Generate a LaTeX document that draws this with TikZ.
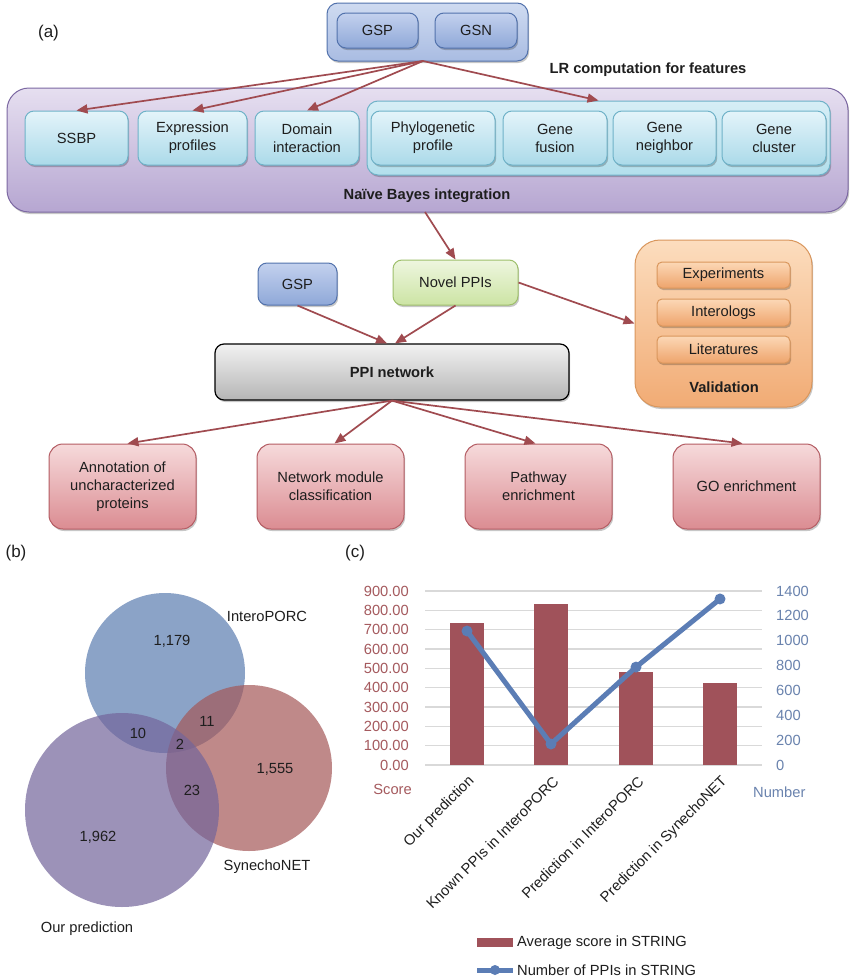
\documentclass[tikz,border=0pt]{standalone}
\usepackage{fontspec}
\setmainfont{Liberation Sans}
\usetikzlibrary{arrows.meta,shadows,calc,shadings}
\definecolor{arrowc}{HTML}{A04B50}
\definecolor{blueT}{HTML}{C3D1EE}\definecolor{blueB}{HTML}{8FA8D8}\definecolor{blueD}{HTML}{5272AC}
\definecolor{gblueT}{HTML}{CFDBF1}\definecolor{gblueB}{HTML}{A9BCE2}
\definecolor{purT}{HTML}{E6DFF0}\definecolor{purB}{HTML}{B6A6D1}\definecolor{purD}{HTML}{7C68A2}
\definecolor{cyT}{HTML}{E4F4FA}\definecolor{cyB}{HTML}{ABDAE9}\definecolor{cyD}{HTML}{6FB2C8}
\definecolor{cgT}{HTML}{D6EEF6}\definecolor{cgB}{HTML}{B3DFEC}
\definecolor{grT}{HTML}{EEF6DF}\definecolor{grB}{HTML}{CCE4A4}\definecolor{grD}{HTML}{9EBF6B}
\definecolor{gyT}{HTML}{F2F2F2}\definecolor{gyB}{HTML}{B5B5B5}
\definecolor{orT}{HTML}{FCDDBE}\definecolor{orB}{HTML}{F1AB74}\definecolor{orD}{HTML}{D9965C}
\definecolor{oiT}{HTML}{FCD8B6}\definecolor{oiB}{HTML}{EEA46C}
\definecolor{pkT}{HTML}{F6DADB}\definecolor{pkB}{HTML}{DB8C92}\definecolor{pkD}{HTML}{B45C63}
\definecolor{vblue}{HTML}{5B7CB0}\definecolor{vred}{HTML}{A45858}\definecolor{vpur}{HTML}{73659B}
\definecolor{barc}{HTML}{A0525A}\definecolor{linec}{HTML}{5B7DB5}
\definecolor{lax}{HTML}{A55A5E}\definecolor{rax}{HTML}{6A83AE}
\definecolor{gridc}{HTML}{D9D9D9}\definecolor{txt}{HTML}{1E1E1E}
\newcommand\myfs{\fontsize{14.7}{18}\selectfont}
\tikzset{
  shad/.style={drop shadow={shadow xshift=1.2pt,shadow yshift=-2pt,opacity=0.22,fill=black}},
  box/.style={rounded corners=9pt,line width=1pt,align=center,inner sep=0pt,text=txt,font=\myfs,shad},
  bluebox/.style={box,draw=blueD,top color=blueT,bottom color=blueB},
  groupblue/.style={box,rounded corners=11pt,draw=blueD,top color=gblueT,bottom color=gblueB},
  purbox/.style={box,rounded corners=22pt,draw=purD,top color=purT,bottom color=purB},
  cybox/.style={box,draw=cyD,top color=cyT,bottom color=cyB},
  cygroup/.style={box,rounded corners=11pt,draw=cyD,top color=cgT,bottom color=cgB},
  grbox/.style={box,draw=grD,top color=grT,bottom color=grB},
  gybox/.style={box,draw=black,line width=1.2pt,top color=gyT,bottom color=gyB},
  orbox/.style={box,rounded corners=25pt,draw=orD,top color=orT,bottom color=orB},
  oibox/.style={box,rounded corners=5pt,draw=orD,top color=oiT,bottom color=oiB},
  pkbox/.style={box,rounded corners=14pt,draw=pkD,top color=pkT,bottom color=pkB},
  lbl/.style={font=\myfs,text=txt,inner sep=0pt},
  blbl/.style={font=\myfs\bfseries,text=txt,inner sep=0pt},
  arr/.style={draw=arrowc,line width=1.7pt,-{Triangle[length=11pt,width=9pt]}},
}
\begin{document}
\begin{tikzpicture}[x=1pt,y=-1pt]
\useasboundingbox (0,0) rectangle (854,980);
\fill[white] (0,0) rectangle (854,980);
% ---------- (a) ----------
\node[lbl,font=\fontsize{17}{20}\selectfont] (la) at (48.5,33) {(a)};
\node[groupblue,minimum width=201,minimum height=58] (topgrp) at (427.5,32) {};
\node[bluebox,minimum width=81,minimum height=35] (gsp1) at (377.5,30.5) {GSP};
\node[bluebox,minimum width=82,minimum height=35] (gsn) at (476,30.5) {GSN};
\node[blbl] (lr) at (648,70) {LR computation for features};
\node[purbox,minimum width=841,minimum height=124] (nb) at (427.5,150) {};
\node[blbl] (nbl) at (427,196) {Naïve Bayes integration};
\node[cybox,minimum width=103,minimum height=54] (ssbp) at (76.5,138) {SSBP};
\node[cybox,minimum width=109,minimum height=54] (expr) at (192.5,138) {Expression\\profiles};
\node[cybox,minimum width=104,minimum height=54] (dom) at (307,138) {Domain\\interaction};
\node[cygroup,minimum width=463,minimum height=74] (cgrp) at (598.5,138) {};
\node[cybox,minimum width=124,minimum height=54] (phylo) at (433,138) {Phylogenetic\\profile};
\node[cybox,minimum width=104,minimum height=54] (fus) at (555,138) {Gene\\fusion};
\node[cybox,minimum width=103,minimum height=54] (nei) at (664.5,138) {Gene\\neighbor};
\node[cybox,minimum width=104,minimum height=54] (clu) at (774,138) {Gene\\cluster};
\coordinate (src) at (423,61);
\draw[arr] (src) -- (ssbp.north);
\draw[arr] (src) -- (expr.north);
\draw[arr] (src) -- (dom.north);
\draw[arr] (src) -- (cgrp.north);
% middle
\node[bluebox,minimum width=79,minimum height=42] (gsp2) at (297.5,284) {GSP};
\node[grbox,minimum width=125,minimum height=45] (novel) at (455.5,282.5) {Novel PPIs};
\node[gybox,minimum width=354,minimum height=56,font=\myfs\bfseries] (ppi) at (392,372) {PPI network};
\node[orbox,minimum width=177,minimum height=167] (val) at (723.5,323.5) {};
\node[oibox,minimum width=133,minimum height=26] (exp) at (723.5,275) {Experiments};
\node[oibox,minimum width=133,minimum height=27] (inter) at (723.5,312.5) {Interologs};
\node[oibox,minimum width=133,minimum height=27] (lit) at (723.5,349.5) {Literatures};
\node[blbl] (vall) at (724,387) {Validation};
\coordinate (nbout) at (425,212);
\draw[arr] (nbout) -- (novel.north);
\draw[arr] (gsp2.south) -- ($(ppi.north)+(-5,0)$);
\draw[arr] (novel.south) -- ($(ppi.north)+(3,0)$);
\draw[arr] (novel.east) -- (val.west);
% bottom
\node[pkbox,minimum width=147,minimum height=85] (ann) at (122.5,486.5) {Annotation of\\uncharacterized\\proteins};
\node[pkbox,minimum width=147,minimum height=85] (net) at (330.5,486.5) {Network module\\classification};
\node[pkbox,minimum width=147,minimum height=85] (pth) at (538.5,486.5) {Pathway\\enrichment};
\node[pkbox,minimum width=147,minimum height=85] (go) at (746.5,486.5) {GO enrichment};
\draw[arr] (ppi.south) -- ($(ann.north)+(5,0)$);
\draw[arr] (ppi.south) -- ($(net.north)+(4,0)$);
\draw[arr] (ppi.south) -- ($(pth.north)+(-3,0)$);
\draw[arr] (ppi.south) -- ($(go.north)+(-4,0)$);
% ---------- (b) Venn ----------
\node[lbl,font=\fontsize{17}{20}\selectfont] (lb) at (16,553) {(b)};
\fill[vblue,fill opacity=0.7] (165,673) circle (80);
\fill[vred,fill opacity=0.7] (249,768) circle (83);
\fill[vpur,fill opacity=0.7] (122,810) circle (97);
\node[lbl] at (267,616) {InteroPORC};
\node[lbl] at (172,641) {1,179};
\node[lbl] at (138,733) {10};
\node[lbl] at (180,744) {2};
\node[lbl] at (207,721) {11};
\node[lbl] at (275,769) {1,555};
\node[lbl] at (192,790) {23};
\node[lbl] at (98,837) {1,962};
\node[lbl] at (267,867) {SynechoNET};
\node[lbl] at (87,929) {Our prediction};
% ---------- (c) chart ----------
\node[lbl,font=\fontsize{17}{20}\selectfont] (lc) at (355,553) {(c)};
\draw[gridc,line width=1.2pt] (425,765) -- (762,765);
\node[lbl,text=lax,anchor=east] at (409,765) {0.00};
\foreach \v in {1,...,9}{
  \draw[gridc,line width=1.2pt] (425,765-\v*19.333) -- (762,765-\v*19.333);
  \node[lbl,text=lax,anchor=east] at (409,765-\v*19.333) {\v00.00};
}
\foreach \v in {0,2,4,6,8,10,12,14}{
  \pgfmathtruncatemacro\num{\v*100}
  \node[lbl,text=rax,anchor=west] at (776,765-\v*12.4286) {\num};
}
\node[lbl,text=lax,anchor=east] at (412,789) {Score};
\node[lbl,text=rax,anchor=west] at (753,792) {Number};
\foreach \cx/\val in {467/734,551/833,636/481,720/424}{
  \fill[barc] (\cx-17,765) rectangle (\cx+17,765-\val*0.19333);
}
\draw[linec,line width=5pt,line join=round] (467,765-1078*0.124286) -- (551,765-169*0.124286) -- (636,765-788*0.124286) -- (720,765-1336*0.124286);
\foreach \cx/\n in {467/1078,551/169,636/788,720/1336}{
  \fill[linec] (\cx,765-\n*0.124286) circle (5.5);
}
\node[lbl,rotate=45,anchor=east] at (472,779) {Our prediction};
\node[lbl,rotate=45,anchor=east] at (556,779) {Known PPIs in InteroPORC};
\node[lbl,rotate=45,anchor=east] at (641,779) {Prediction in InteroPORC};
\node[lbl,rotate=45,anchor=east] at (725,779) {Prediction in SynechoNET};
% legend
\fill[barc] (477,938) rectangle (513,947);
\node[lbl,anchor=west] at (517,943) {Average score in STRING};
\draw[linec,line width=5pt] (477,970) -- (513,970);
\fill[linec] (495,970) circle (5);
\node[lbl,anchor=west] at (517,970) {Number of PPIs in STRING};
\end{tikzpicture}
\end{document}
